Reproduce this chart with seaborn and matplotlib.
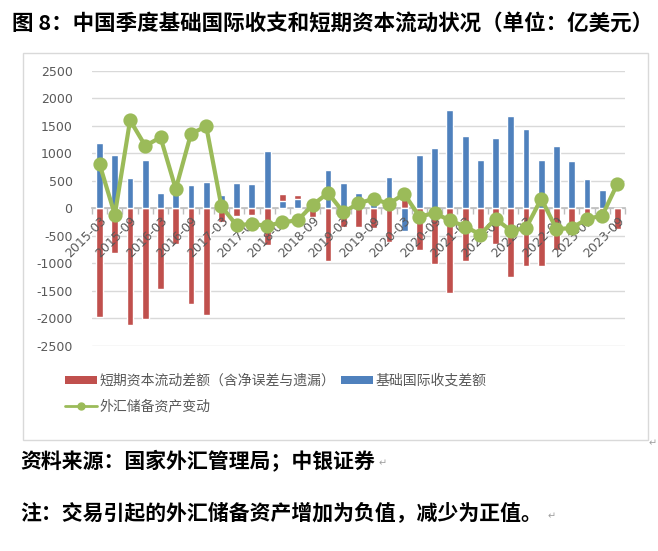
import matplotlib
matplotlib.use("Agg")
import matplotlib.pyplot as plt
from matplotlib.patches import Patch, Rectangle
from matplotlib.lines import Line2D
import seaborn as sns

# ---------------------------------------------- 数据 ----------------------------------------------

quarters = [
    "2015-03", "2015-06", "2015-09", "2015-12", "2016-03", "2016-06", "2016-09", "2016-12",
    "2017-03", "2017-06", "2017-09", "2017-12", "2018-03", "2018-06", "2018-09", "2018-12",
    "2019-03", "2019-06", "2019-09", "2019-12", "2020-03", "2020-06", "2020-09", "2020-12",
    "2021-03", "2021-06", "2021-09", "2021-12", "2022-03", "2022-06", "2022-09", "2022-12",
    "2023-03", "2023-06", "2023-09",
]

# 短期资本流动差额（含净误差与遗漏）
short_capital = [
    -1980, -820, -2120, -2010, -1470, -650, -1745, -1940,
    -255, -135, -115, -660, 255, 245, -165, -965,
    -330, -330, -365, -615, 170, -765, -1005, -1540,
    -965, -375, -645, -1255, -1040, -1040, -750, -315,
    -130, -75, -370,
]

# 基础国际收支差额
basic_bop = [
    1190, 960, 545, 870, 275, 330, 420, 475,
    245, 455, 440, 1035, 135, 170, 165, 695,
    455, 275, 110, 565, -410, 960, 1105, 1790,
    1320, 870, 1270, 1685, 1450, 870, 1125, 855,
    530, 330, 0,
]

# 外汇储备资产变动
fx_reserve = [
    800, -115, 1600, 1135, 1290, 350, 1355, 1490,
    35, -310, -280, -320, -250, -220, 65, 280,
    -70, 90, 175, 80, 265, -150, -85, -220,
    -330, -475, -190, -405, -360, 175, -375, -360,
    -190, -135, 445,
]

red = "#C0504D"
blue = "#4F81BD"
green = "#9BBB59"
grey_txt = "#595959"

# ---------------------------------------------- 画图 ----------------------------------------------

sns.set_theme(style="white")
plt.rcParams["font.family"] = ["Noto Sans CJK SC", "DejaVu Sans"]

W, H = 658, 551
fig = plt.figure(figsize=(W / 100, H / 100), dpi=100)
fig.patch.set_facecolor("white")

# 外框
fig.patches.append(Rectangle((23 / W, 1 - 440 / H), (648 - 23) / W, (440 - 53) / H,
                             transform=fig.transFigure, fill=False,
                             edgecolor="#D9D9D9", linewidth=1.0))

ax = fig.add_axes([92 / W, 1 - 346 / H, (625 - 92) / W, (346 - 70.7) / H])

sns.barplot(x=quarters, y=short_capital, color=red, saturation=1, width=0.45, ax=ax, zorder=2)
sns.barplot(x=quarters, y=basic_bop, color=blue, saturation=1, width=0.45, ax=ax, zorder=3)
sns.pointplot(x=quarters, y=fx_reserve, color=green, markers="o", linestyles="-",
              markersize=8, linewidth=3, ax=ax, zorder=6)

ax.set_xlim(-0.5, len(quarters) - 0.5)
ax.set_ylim(-2500, 2500)
ax.set_yticks(range(-2500, 2501, 500))
ax.set_yticklabels([str(v) for v in range(-2500, 2501, 500)], color=grey_txt,
                   fontsize=9, family="DejaVu Sans")
ax.yaxis.grid(True, color="#D9D9D9", linewidth=1, zorder=0)
ax.set_xlabel("")
ax.set_ylabel("")

for s in ["left", "right", "top"]:
    ax.spines[s].set_visible(False)
ax.spines["bottom"].set_position(("data", 0))
ax.spines["bottom"].set_color("#BFBFBF")
ax.spines["bottom"].set_zorder(1)

ax.set_xticks(range(0, len(quarters), 2))
ax.set_xticklabels(quarters[::2], rotation=45, ha="right", va="top",
                   rotation_mode="anchor", color=grey_txt, fontsize=9,
                   family="DejaVu Sans")
ax.set_xticks([i + 0.5 for i in range(-1, len(quarters))], minor=True)
ax.tick_params(axis="x", which="minor", length=4, color="#BFBFBF", direction="out", bottom=True)
ax.tick_params(axis="x", which="major", length=0, pad=4)
ax.tick_params(axis="y", length=0, pad=14)
# 刻度标签画在柱子上面
ax.xaxis.set_zorder(5)

# 图例
handles = [
    Patch(facecolor=red, edgecolor="none"),
    Line2D([0], [0], color=green, linewidth=2, marker="o", markersize=5),
    Patch(facecolor=blue, edgecolor="none"),
]
labels = ["短期资本流动差额（含净误差与遗漏）", "外汇储备资产变动", "基础国际收支差额"]
fig.legend(handles, labels, ncol=2, loc="upper left",
           bbox_to_anchor=(58 / W, 1 - 367 / H), frameon=False,
           fontsize=10, handlelength=2.3, handleheight=0.55, handletextpad=0.2,
           columnspacing=0.4, labelspacing=0.85, borderpad=0,
           labelcolor=grey_txt)

# 标题与注释
fig.text(12 / W, 1 - 23 / H, "图 8：中国季度基础国际收支和短期资本流动状况（单位：亿美元）",
         fontsize=15.5, fontweight="bold", ha="left", va="center", color="black")
fig.text(20 / W, 1 - 461 / H, "资料来源：国家外汇管理局；中银证券",
         fontsize=15, fontweight="bold", ha="left", va="center", color="black")
fig.text(20 / W, 1 - 514 / H, "注：交易引起的外汇储备资产增加为负值，减少为正值。",
         fontsize=15, fontweight="bold", ha="left", va="center", color="black")
fig.text(379 / W, 1 - 463 / H, "↵", fontsize=7, color="#A0A0A0", ha="left", va="center",
         family=["DejaVu Sans"])
fig.text(548 / W, 1 - 516 / H, "↵", fontsize=7, color="#A0A0A0", ha="left", va="center",
         family=["DejaVu Sans"])
fig.text(649 / W, 1 - 443 / H, "↵", fontsize=7, color="#A0A0A0", ha="left", va="center",
         family=["DejaVu Sans"])

plt.savefig("out.png", dpi=100)
